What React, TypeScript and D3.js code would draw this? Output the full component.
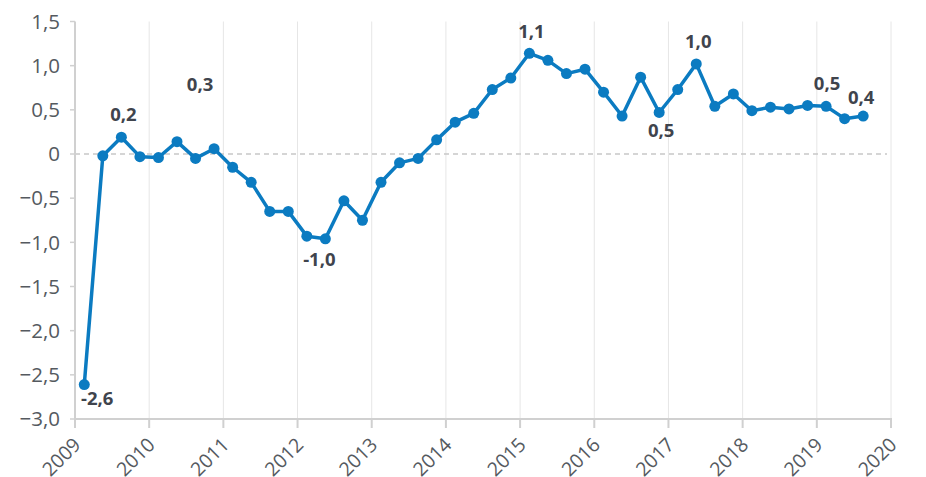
import React from "react";
import * as d3 from "d3";

const startYear = 2009;
const values: number[] = [
  -2.61, -0.02, 0.19, -0.03, -0.04, 0.14, -0.05, 0.06, -0.15, -0.32, -0.65, -0.65,
  -0.93, -0.96, -0.53, -0.75, -0.32, -0.10, -0.05, 0.16, 0.36, 0.46, 0.73, 0.86,
  1.14, 1.06, 0.91, 0.96, 0.70, 0.43, 0.87, 0.47, 0.73, 1.02, 0.54, 0.68,
  0.49, 0.53, 0.51, 0.55, 0.54, 0.40, 0.43,
];
const yTicks: number[] = [1.5, 1.0, 0.5, 0, -0.5, -1.0, -1.5, -2.0, -2.5, -3.0];
const xYears: number[] = [2009, 2010, 2011, 2012, 2013, 2014, 2015, 2016, 2017, 2018, 2019, 2020];
const labelIndex: number[] = [0, 2, 7, 13, 24, 31, 33, 40, 42];
const labelText: string[] = ["-2,6", "0,2", "0,3", "-1,0", "1,1", "0,5", "1,0", "0,5", "0,4"];
// placement offsets (px) relative to each labelled point
const labelDx: number[] = [13, 2, -14, -6, 2, 2, 2, 1, -2];
const labelDy: number[] = [20, -16, -58, 27, -15, 25, -16, -16, -12];

const W = 926;
const H = 477;
const FONT = "'Open Sans', 'Noto Sans', sans-serif";
const LINE = "#0b7bc1";

const fmt = (v: number) => (v === 0 ? "0" : d3.format(".1f")(v).replace(".", ","));

export default function App() {
  const x = d3.scaleLinear().domain([2009, 2020]).range([75, 891]);
  const y = d3.scaleLinear().domain([-3, 1.5]).range([419, 21.5]);
  const t = (i: number) => startYear + (i + 0.5) / 4;
  const line = d3
    .line<number>()
    .x((_, i) => x(t(i)))
    .y((d) => y(d));

  return (
    <svg
      width={W}
      height={H}
      style={{ position: "absolute", left: 0, top: 0, background: "#fff" }}
      fontFamily={FONT}
    >
      {/* vertical grid */}
      {xYears.slice(1).map((yr) => (
        <line key={"g" + yr} x1={x(yr)} x2={x(yr)} y1={y(1.5)} y2={y(-3)} stroke="#e6e6e6" strokeWidth={1} />
      ))}
      {/* zero line */}
      <line x1={x(2009)} x2={x(2020) - 4} y1={y(0)} y2={y(0)} stroke="#c8c8c8" strokeWidth={1.5} strokeDasharray="5,4" />
      {/* y axis */}
      <line x1={x(2009)} x2={x(2009)} y1={y(1.5)} y2={y(-3)} stroke="#d0d0d0" strokeWidth={2} />
      {yTicks.map((v) => (
        <g key={"y" + v}>
          <line x1={x(2009) - 5} x2={x(2009)} y1={y(v)} y2={y(v)} stroke="#d0d0d0" strokeWidth={1.5} />
          <text x={60} y={y(v)} dy="0.35em" textAnchor="end" fontSize={20.5} fill="#555a5f">
            {fmt(v)}
          </text>
        </g>
      ))}
      {/* x axis */}
      <line x1={x(2009) - 1} x2={x(2020) + 1} y1={y(-3)} y2={y(-3)} stroke="#d0d0d0" strokeWidth={2} />
      {xYears.map((yr) => (
        <g key={"x" + yr}>
          <line x1={x(yr)} x2={x(yr)} y1={y(-3)} y2={y(-3) + 9} stroke="#d0d0d0" strokeWidth={2} />
          <text
            transform={`translate(${x(yr) + 7},${y(-3) + 27}) rotate(-45)`}
            textAnchor="end"
            fontSize={19.5}
            fill="#555a5f"
          >
            {yr}
          </text>
        </g>
      ))}
      {/* series */}
      <path d={line(values) || ""} fill="none" stroke={LINE} strokeWidth={3.5} strokeLinejoin="round" />
      {values.map((v, i) => (
        <circle key={"c" + i} cx={x(t(i))} cy={y(v)} r={5.5} fill={LINE} />
      ))}
      {/* labels */}
      {labelIndex.map((idx, k) => (
        <text
          key={"l" + k}
          x={x(t(idx)) + labelDx[k]}
          y={y(values[idx]) + labelDy[k]}
          textAnchor="middle"
          fontSize={18.5}
          fontWeight="bold"
          fill="#3f444d"
        >
          {labelText[k]}
        </text>
      ))}
    </svg>
  );
}
